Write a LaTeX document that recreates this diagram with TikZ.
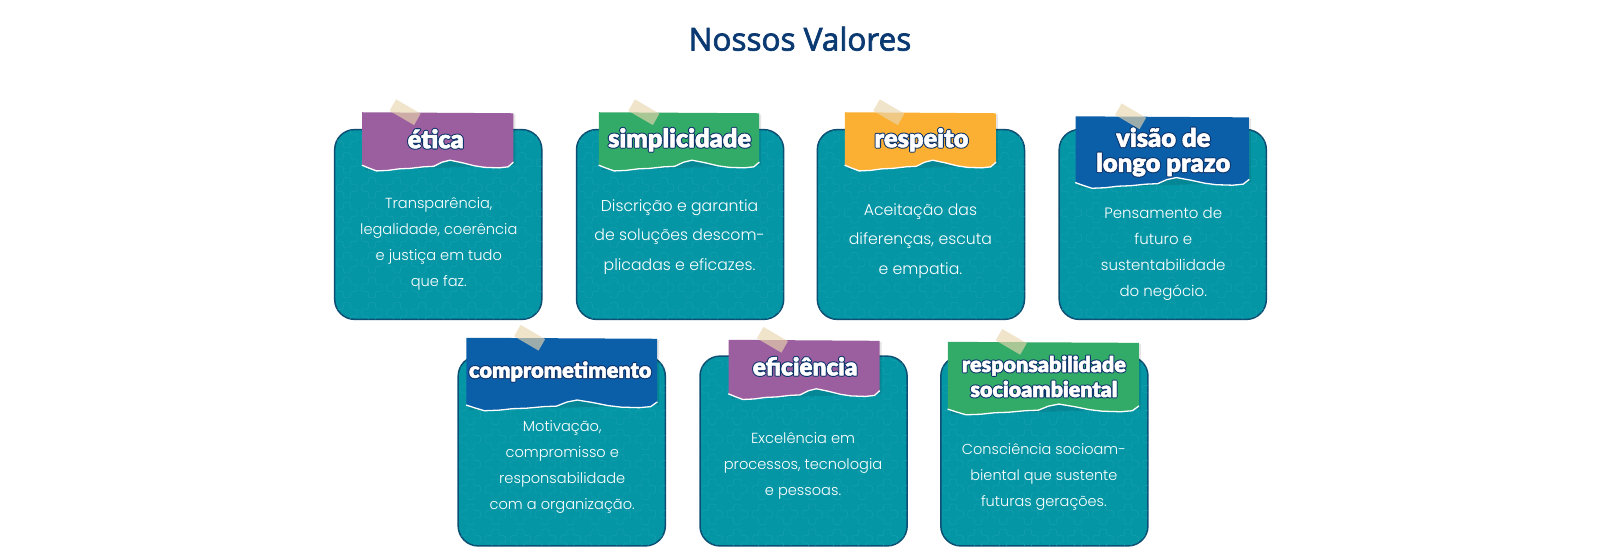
\documentclass[tikz,border=0pt]{standalone}
\usepackage{fontspec}
\setmainfont{Open Sans}
\newfontfamily\bodyf{Poppins Light}
\newfontfamily\headf{Lato Black}
\newfontfamily\titlef{Open Sans}
\definecolor{cardfill}{HTML}{0596A6}
\definecolor{cardline}{HTML}{0D4F73}
\definecolor{crossc}{HTML}{149EAE}
\definecolor{purp}{HTML}{9B5E9E}
\definecolor{gren}{HTML}{33AB68}
\definecolor{oran}{HTML}{FBB034}
\definecolor{blu}{HTML}{0B5EA8}
\definecolor{navy}{HTML}{0B3A72}
\definecolor{tapec}{HTML}{E9D6AE}
\newcommand{\titl}[1]{\special{pdf:literal 0.7 w 0.043 0.227 0.447 RG 2 Tr}#1\special{pdf:literal 0 Tr}}
\newcommand{\hdl}[1]{\leavevmode\rlap{\special{pdf:literal 2.6 w 1 j 0.05 0.2 0.42 RG 2 Tr}#1\special{pdf:literal 0 Tr 0 j}}\special{pdf:literal 0.5 w 1 j 1 1 1 RG 2 Tr}#1\special{pdf:literal 0 Tr 0 j}}
\tikzset{
 titletext/.style={text=navy,font=\titlef\fontsize{31.5}{36}\selectfont,inner sep=0},
 bodytext/.style n args={2}{text=white,font=\bodyf\fontsize{#1}{#2}\selectfont,align=center,inner sep=0},
 headtext/.style={text=white,font=\headf\fontsize{#1}{25}\selectfont,align=center,inner sep=0},
 cardbox/.style={draw=cardline,line width=1.5pt,fill=cardfill,rounded corners=20pt},
 tapestyle/.style={fill=tapec,fill opacity=.65,draw=none},
 torn/.style={draw=white,line width=1.3pt,line cap=round,line join=round}
}
\newcommand{\card}[3]{%
 \draw[cardbox] (#2,#3) rectangle ++(203,186);
 \begin{scope}
  \clip[rounded corners=20pt] (#2,#3) rectangle ++(203,186);
  \foreach \i in {0,...,8}{\foreach \j in {0,...,7}{
   \begin{scope}[shift={(#2+12+24.5*\i,#3+8+24.5*\j)}]
    \draw[crossc,line width=.5pt,rounded corners=1.5pt] (-3.5,-10)--(3.5,-10)--(3.5,-3.5)--(10,-3.5)--(10,3.5)--(3.5,3.5)--(3.5,10)--(-3.5,10)--(-3.5,3.5)--(-10,3.5)--(-10,-3.5)--(-3.5,-3.5)--cycle;
   \end{scope}}}
 \end{scope}
}
\newcommand{\ribbon}[6]{%
 \begin{scope}[shift={(#1,#3)}]
  \pgfmathsetmacro{\h}{#4}
  \pgfmathsetmacro{\w}{(#2-#1)/148}
  \fill[black,opacity=.10] (3,2) -- ({#2-#1+2},2) -- ({#2-#1+2},{\h}) -- (3,{\h+5}) -- cycle;
  \fill[#5] (0,0) -- ({#2-#1},1) -- ({148*\w},{\h-3}) -- ({143*\w},{\h+1.5}) -- ({134*\w},{\h+2.5}) -- ({120*\w},{\h+2}) -- ({110*\w},{\h+0.5}) -- ({98*\w},{\h-2.5}) -- ({86*\w},{\h-5}) -- ({78*\w},{\h-3}) -- ({70*\w},{\h+1}) -- ({60*\w},{\h+1.5}) -- ({47*\w},{\h+3}) -- ({36*\w},{\h+3.5}) -- ({25*\w},{\h+5}) -- ({14*\w},{\h+5.5}) -- ({6*\w},{\h+2.5}) -- (0,{\h}) -- cycle;
  \draw[torn] (0,{\h}) -- ({6*\w},{\h+2.5}) -- ({14*\w},{\h+5.5}) -- ({25*\w},{\h+5}) -- ({36*\w},{\h+3.5}) -- ({47*\w},{\h+3}) -- ({60*\w},{\h+1.5}) -- ({70*\w},{\h+1}) -- ({78*\w},{\h-3}) -- ({86*\w},{\h-5}) -- ({98*\w},{\h-2.5}) -- ({110*\w},{\h+0.5}) -- ({120*\w},{\h+2}) -- ({134*\w},{\h+2.5}) -- ({143*\w},{\h+1.5}) -- ({148*\w},{\h-3});
  \fill[tapestyle] (#6-8.8,-12.6) -- (#6+15.2,1.4) -- (#6+8.8,12.6) -- (#6-15.2,-1.4) -- cycle;
 \end{scope}
}
\begin{document}
\begin{tikzpicture}[x=1.0204pt,y=-1.0204pt]
\useasboundingbox[fill=white] (0,0) rectangle (1568,539);
\node[titletext] (title) at (784,38) {\titl{Nossos Valores}};

\card{a}{328}{127}
\ribbon{355}{503}{110}{52}{purp}{42}
\node[headtext=25.4] (a1) at (427,136) {\hdl{ética}};
\node[bodytext={14.6}{26}] (a2) at (430,239) {Transparência,\\legalidade, coerência\\e justiça em tudo\\que faz.};

\card{b}{565}{127}
\ribbon{587}{744}{110}{52}{gren}{44}
\node[headtext=25.4] (b1) at (666,137) {\hdl{simplicidade}};
\node[bodytext={15.7}{29.5}] (b2) at (666,232) {Discrição e garantia\\de soluções descom-\\plicadas e eficazes.};

\card{c}{801}{127}
\ribbon{828}{976}{110}{52}{oran}{43}
\node[headtext=25.4] (c1) at (903,137) {\hdl{respeito}};
\node[bodytext={15.7}{29.5}] (c2) at (902,236) {Aceitação das\\diferenças, escuta\\e empatia.};

\card{d}{1038}{127}
\ribbon{1054}{1224}{114}{65}{blu}{54}
\node[headtext=25.5] (d1) at (1140,149) {\hdl{visão de}\\\hdl{longo prazo}};
\node[bodytext={15}{26}] (d2) at (1140,249) {Pensamento de\\futuro e\\sustentabilidade\\do negócio.};

\card{e}{449}{349}
\ribbon{457}{644}{331}{66}{blu}{62}
\node[headtext=21.7] (e1) at (549,364) {\hdl{comprometimento}};
\node[bodytext={14.6}{26}] (e2) at (551,458) {Motivação,\\compromisso e\\responsabilidade\\com a organização.};

\card{f}{686}{349}
\ribbon{714}{862}{333}{53}{purp}{43}
\node[headtext=24.4] (f1) at (789,359) {\hdl{eficiência}};
\node[bodytext={14.6}{26}] (f2) at (787,457) {Excelência em\\processos, tecnologia\\e pessoas.};

\card{g}{922}{349}
\ribbon{929}{1116}{335}{66}{gren}{62}
\node[headtext=21.5] (g1) at (1023,369) {\hdl{responsabilidade}\\\hdl{socioambiental}};
\node[bodytext={14.5}{26}] (g2) at (1023,467) {Consciência socioam-\\biental que sustente\\futuras gerações.};
\end{tikzpicture}
\end{document}
